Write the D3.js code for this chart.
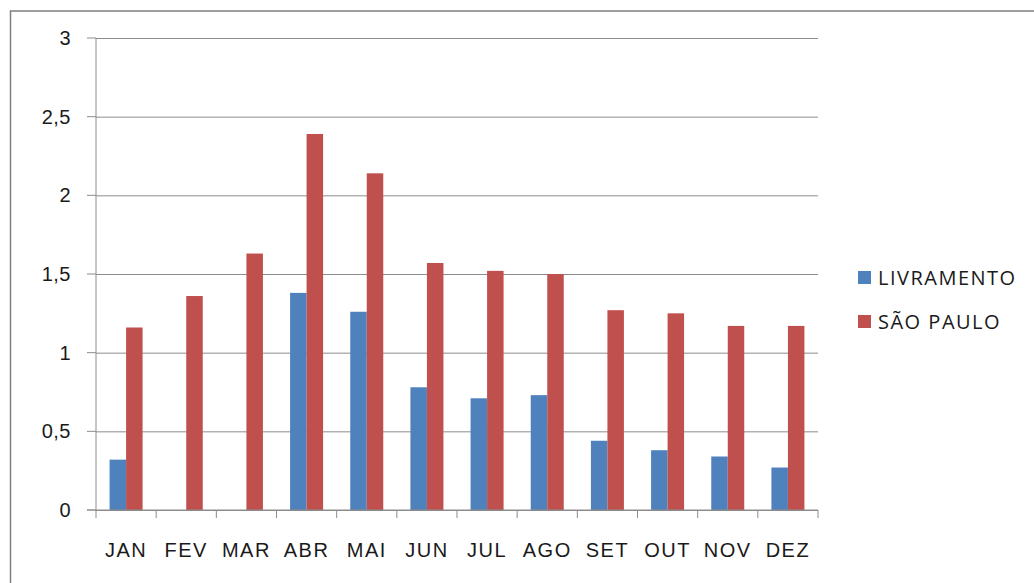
<!DOCTYPE html>
<html>
<head>
<meta charset="utf-8">
<script src="https://cdn.jsdelivr.net/npm/d3@7"></script>
<style>
  body { margin: 0; background: #fff; }
  svg { font-family: "Open Sans", Lato, sans-serif; }
</style>
</head>
<body>
<div id="paper"></div>
<script>
// monthly values
var months = ['JAN', 'FEV', 'MAR', 'ABR', 'MAI', 'JUN', 'JUL', 'AGO', 'SET', 'OUT', 'NOV', 'DEZ']
var livramento = [0.32, 0, 0, 1.38, 1.26, 0.78, 0.71, 0.73, 0.44, 0.38, 0.34, 0.27]
var saoPaulo = [1.16, 1.36, 1.63, 2.39, 2.14, 1.57, 1.52, 1.50, 1.27, 1.25, 1.17, 1.17]
var seriesNames = ['LIVRAMENTO', 'SÃO PAULO']
var colors = ['#4F81BD', '#C0504D']
var yTicks = [0, 0.5, 1, 1.5, 2, 2.5, 3]

var W = 1034, H = 583
// note: can't call these top/left at top level, window.top is read-only
var plotL = 96, plotR = 818, plotT = 38, plotB = 510

var svg = d3.select('#paper').append('svg')
    .attr('width', W)
    .attr('height', H)

// chart frame (cut off on the right and bottom in the original)
svg.append('rect')
    .attr('x', 10.5).attr('y', 11)
    .attr('width', W + 20).attr('height', H + 20)
    .attr('fill', 'none')
    .attr('stroke', '#7f7f7f')
    .attr('stroke-width', 1.5)

var x = d3.scaleBand().domain(months).range([plotL, plotR])
var y = d3.scaleLinear().domain([0, 3]).range([plotB, plotT])

var bw = 16.5  // bar width, 2 per month

// gridlines + y labels
svg.append('g')
    .attr('transform', 'translate(' + plotL + ',0)')
    .call(d3.axisLeft(y).tickValues(yTicks)
        .tickSize(-(plotR - plotL))
        .tickFormat(d => String(d).replace('.', ',')))
    .call(g => g.select('.domain').remove())
    .call(g => g.selectAll('.tick line').attr('stroke', '#8c8c8c').attr('stroke-width', 1))
    .call(g => g.selectAll('.tick text').attr('x', -25).attr('font-size', 20)
        .attr('letter-spacing', '0.5px').attr('fill', '#1a1a1a'))

// y tick stubs outside axis
svg.append('g').selectAll('line').data(yTicks).join('line')
    .attr('x1', plotL - 9).attr('x2', plotL)
    .attr('y1', d => y(d)).attr('y2', d => y(d))
    .attr('stroke', '#8c8c8c')

// bars
var data = months.map((m, i) => ({ m: m, v: [livramento[i], saoPaulo[i]] }))
data.forEach(function(d) {
    d.v.forEach(function(v, j) {
        if (v <= 0) return
        svg.append('rect')
            .attr('x', x(d.m) + x.bandwidth() / 2 - bw + j * bw)
            .attr('y', y(v))
            .attr('width', bw)
            .attr('height', y(0) - y(v))
            .attr('fill', colors[j])
    })
})

// y axis line
svg.append('line')
    .attr('x1', plotL).attr('x2', plotL)
    .attr('y1', plotT).attr('y2', plotB)
    .attr('stroke', '#8c8c8c')

// x axis
svg.append('g')
    .attr('transform', 'translate(0,' + plotB + ')')
    .call(d3.axisBottom(x).tickSize(0))
    .call(g => g.select('.domain').attr('stroke', '#8c8c8c').attr('d', 'M' + (plotL - 9) + ',0H' + plotR))
    .call(g => g.selectAll('.tick text').attr('dy', 0).attr('y', 47).attr('font-size', 20)
        .attr('letter-spacing', '1.5px').attr('fill', '#1a1a1a'))

// category separators
svg.append('g').selectAll('line').data(months.concat(['end'])).join('line')
    .attr('x1', (d, i) => plotL + i * x.bandwidth())
    .attr('x2', (d, i) => plotL + i * x.bandwidth())
    .attr('y1', plotB).attr('y2', plotB + 8)
    .attr('stroke', '#8c8c8c')

// legend
var legend = svg.append('g')
seriesNames.forEach(function(name, i) {
    legend.append('rect')
        .attr('x', 858).attr('y', 271 + i * 44)
        .attr('width', 13).attr('height', 13)
        .attr('fill', colors[i])
    legend.append('text')
        .attr('x', 878).attr('y', 285 + i * 44)
        .attr('font-size', 20)
        .attr('letter-spacing', '1.5px')
        .attr('fill', '#1a1a1a')
        .text(name)
})
</script>
</body>
</html>
